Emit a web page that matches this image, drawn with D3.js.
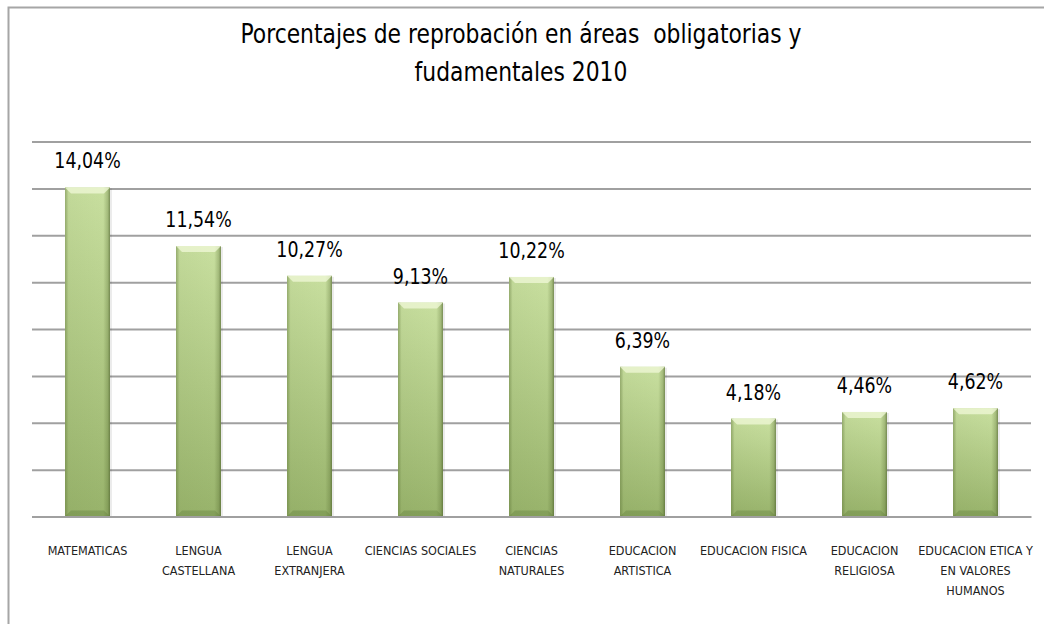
<!DOCTYPE html>
<html>
<head>
<meta charset="utf-8">
<script src="https://cdn.jsdelivr.net/npm/d3@7"></script>
<style>
  body { margin: 0; background: #fff; }
  svg { display: block; }
</style>
</head>
<body>
<div id="chart"></div>
<script>
// data
var categories = ["MATEMATICAS", "LENGUA\nCASTELLANA", "LENGUA\nEXTRANJERA", "CIENCIAS SOCIALES",
  "CIENCIAS\nNATURALES", "EDUCACION\nARTISTICA", "EDUCACION FISICA", "EDUCACION\nRELIGIOSA",
  "EDUCACION ETICA Y\nEN VALORES\nHUMANOS"];
var values = [14.04, 11.54, 10.27, 9.13, 10.22, 6.39, 4.18, 4.46, 4.62];
var yTicks = [0, 2, 4, 6, 8, 10, 12, 14, 16];
var titleLines = ["Porcentajes de reprobación en áreas  obligatorias y", "fudamentales 2010"];

var W = 1044, H = 624;
var margin = { top: 141.5, left: 32, right: 13, bottom: 107.5 };
var width = W - margin.left - margin.right,
    height = H - margin.top - margin.bottom;

var font = "'DejaVu Sans Condensed', 'Liberation Sans Narrow', Arial, sans-serif";

var svg = d3.select("#chart").append("svg")
    .attr("width", W)
    .attr("height", H);

// gradients for the bevelled bars
var defs = svg.append("defs");
var vg = defs.append("linearGradient").attr("id", "barV")
    .attr("x1", 0).attr("y1", 0).attr("x2", 0).attr("y2", 1);
vg.append("stop").attr("offset", "0%").attr("stop-color", "#c8df9f");
vg.append("stop").attr("offset", "100%").attr("stop-color", "#98b36b");

var hg = defs.append("linearGradient").attr("id", "barH")
    .attr("x1", 0).attr("y1", 0).attr("x2", 1).attr("y2", 0);
hg.append("stop").attr("offset", "0%").attr("stop-color", "#556b2f").attr("stop-opacity", 0.45);
hg.append("stop").attr("offset", "8%").attr("stop-color", "#556b2f").attr("stop-opacity", 0.05);
hg.append("stop").attr("offset", "85%").attr("stop-color", "#556b2f").attr("stop-opacity", 0.0);
hg.append("stop").attr("offset", "95%").attr("stop-color", "#556b2f").attr("stop-opacity", 0.3);
hg.append("stop").attr("offset", "100%").attr("stop-color", "#3f5220").attr("stop-opacity", 0.6);

// outer frame
svg.append("path")
    .attr("d", "M8.5," + H + "V7.5H" + W)
    .attr("fill", "none")
    .attr("stroke", "#a6a6a6")
    .attr("stroke-width", 2);

// title (squeezed to match the narrow original face)
svg.append("g")
    .attr("transform", "translate(521,0) scale(0.9,1)")
    .selectAll("text")
    .data(titleLines)
    .enter().append("text")
    .attr("x", 0)
    .attr("y", function (d, i) { return 43 + i * 38; })
    .attr("text-anchor", "middle")
    .attr("font-family", font)
    .attr("font-size", "27px")
    .attr("fill", "#000")
    .style("white-space", "pre")
    .text(function (d) { return d; });

var g = svg.append("g")
    .attr("transform", "translate(" + margin.left + "," + margin.top + ")");

var x = d3.scaleBand().domain(categories).range([0, width]).padding(0);
var y = d3.scaleLinear().domain([0, 16]).range([height, 0]);
var barW = x.bandwidth() * 0.405;

// gridlines
var yAxis = g.append("g")
    .call(d3.axisLeft(y).tickValues(yTicks).tickSize(-width).tickFormat(""));
yAxis.select(".domain").remove();
yAxis.selectAll(".tick line")
    .attr("stroke", "#a0a0a0")
    .attr("stroke-width", 2);

// bars
var bars = g.selectAll(".bar")
    .data(values)
    .enter().append("g")
    .attr("class", "bar")
    .attr("transform", function (d, i) {
        return "translate(" + (x(categories[i]) + (x.bandwidth() - barW) / 2) + "," + y(d) + ")";
    });

// soft shadow
bars.append("rect")
    .attr("x", 2).attr("y", 1)
    .attr("width", barW)
    .attr("height", function (d) { return height - y(d); })
    .attr("fill", "#000").attr("opacity", 0.08);

bars.append("rect")
    .attr("width", barW)
    .attr("height", function (d) { return height - y(d); })
    .attr("fill", "url(#barV)");

bars.append("rect")
    .attr("width", barW)
    .attr("height", function (d) { return height - y(d); })
    .attr("fill", "url(#barH)");

var bev = 6;
// top bevel highlight
bars.append("path")
    .attr("d", "M0,0H" + barW + "L" + (barW - bev) + "," + bev + "H" + bev + "Z")
    .attr("fill", "#f0f8d8").attr("opacity", 0.75);
// bottom bevel shade
bars.append("path")
    .attr("d", function (d) {
        var h = height - y(d);
        return "M0," + h + "H" + barW + "L" + (barW - bev) + "," + (h - bev) + "H" + bev + "Z";
    })
    .attr("fill", "#5f7a38").attr("opacity", 0.35);

// value labels
g.selectAll(".val")
    .data(values)
    .enter().append("text")
    .attr("class", "val")
    .attr("transform", function (d, i) {
        return "translate(" + (x(categories[i]) + x.bandwidth() / 2) + "," + (y(d) - 19) + ") scale(0.88,1)";
    })
    .attr("text-anchor", "middle")
    .attr("font-family", font)
    .attr("font-size", "22px")
    .attr("fill", "#000")
    .text(function (d) { return d.toFixed(2).replace(".", ",") + "%"; });

// category axis
var xAxis = g.append("g")
    .attr("transform", "translate(0," + height + ")")
    .call(d3.axisBottom(x).tickSize(0).tickFormat(""));
xAxis.select(".domain")
    .attr("stroke", "#a0a0a0")
    .attr("stroke-width", 2);

xAxis.selectAll(".tick").append("text")
    .attr("fill", "#222")
    .attr("font-family", font)
    .attr("font-size", "12.5px")
    .attr("text-anchor", "middle")
    .each(function (d) {
        var t = d3.select(this);
        d.split("\n").forEach(function (line, i) {
            t.append("tspan")
                .attr("x", 0)
                .attr("y", 38.5 + i * 20)
                .text(line);
        });
    });
</script>
</body>
</html>
